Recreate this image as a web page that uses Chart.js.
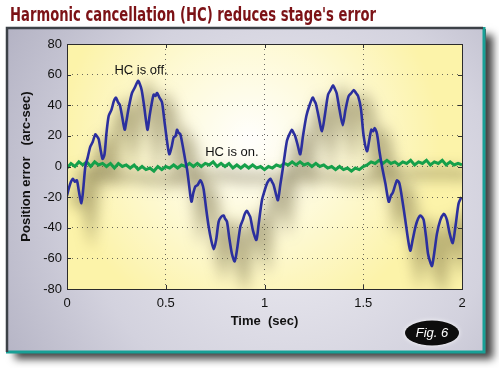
<!DOCTYPE html>
<html>
<head>
<meta charset="utf-8">
<script src="https://cdn.jsdelivr.net/npm/chart.js@4.4.1/dist/chart.umd.min.js"></script>
<style>
  html, body { margin: 0; padding: 0; background: #fff; }
  #wrap { width: 499px; height: 368px; }
</style>
</head>
<body>
<div id="wrap"><canvas id="chart" width="499" height="368"></canvas></div>
<script>
// values
const titleText = "Harmonic cancellation (HC) reduces stage's error";
const xTicks = [0, 0.5, 1, 1.5, 2];
const yTicks = [-80, -60, -40, -20, 0, 20, 40, 60, 80];

// HC is off (blue)
const offTime = [
  0.000, 0.010, 0.020, 0.030, 0.040, 0.050, 0.060, 0.073, 0.082, 0.093,
  0.105, 0.118, 0.130, 0.143, 0.150, 0.160, 0.170, 0.180, 0.190, 0.200,
  0.211, 0.225, 0.238, 0.248, 0.258, 0.268, 0.280, 0.292, 0.300, 0.312,
  0.329, 0.345, 0.360, 0.368, 0.378, 0.390, 0.400, 0.408, 0.418, 0.430,
  0.439, 0.448, 0.456, 0.468, 0.481, 0.493, 0.506, 0.518, 0.530, 0.540,
  0.550, 0.557, 0.565, 0.574, 0.588, 0.599, 0.608, 0.618, 0.630, 0.640,
  0.650, 0.662, 0.675, 0.684, 0.692, 0.705, 0.717, 0.730, 0.743, 0.755,
  0.768, 0.780, 0.793, 0.800, 0.810, 0.822, 0.835, 0.849, 0.860, 0.878,
  0.890, 0.900, 0.911, 0.920, 0.928, 0.942, 0.959, 0.970, 0.987, 1.000,
  1.013, 1.022, 1.030, 1.038, 1.046, 1.058, 1.068, 1.080, 1.092, 1.103,
  1.114, 1.126, 1.139, 1.147, 1.155, 1.168, 1.181, 1.195, 1.212, 1.228,
  1.244, 1.252, 1.260, 1.275, 1.291, 1.305, 1.322, 1.335, 1.347, 1.355,
  1.365, 1.380, 1.396, 1.410, 1.426, 1.440, 1.452, 1.463, 1.474, 1.488,
  1.502, 1.519, 1.530, 1.541, 1.550, 1.558, 1.570, 1.582, 1.595, 1.612,
  1.629, 1.640, 1.650, 1.662, 1.671, 1.683, 1.698, 1.713, 1.725, 1.738,
  1.750, 1.765, 1.778, 1.789, 1.798, 1.806, 1.818, 1.828, 1.838, 1.848,
  1.860, 1.873, 1.890, 1.907, 1.915, 1.924, 1.938, 1.953, 1.968, 1.983,
  1.997
];
const offError = [
  -19, -14, -10, -8, -10, -9, -16, -24, -15, 0,
  6, 13, 16, 21, 20, 18, 11, 5, 8, 22,
  33, 37, 43, 45, 42, 40, 32, 24, 29, 38,
  48, 52, 56, 54, 50, 40, 30, 24, 33, 42,
  47, 46, 48, 45, 42, 30, 17, 8, 13, 19,
  20, 24, 22, 21, 12, 4, -2, -12, -23, -17,
  -13, -12, -9, -11, -15, -28, -39, -48, -54, -48,
  -36, -33, -32, -34, -36, -47, -57, -62, -55, -39,
  -35, -31, -29, -31, -33, -42, -48, -38, -22, -16,
  -11, -9, -8, -10, -12, -18, -22, -12, -2, 8,
  17, 21, 24, 22, 20, 14, 8, 20, 33, 40,
  45, 43, 41, 32, 23, 33, 47, 50, 53, 51,
  48, 37, 27, 37, 46, 48, 50, 48, 46, 38,
  20, 10, 17, 24, 23, 25, 21, 10, 0, -11,
  -23, -19, -17, -12, -9, -11, -22, -35, -46, -55,
  -48, -39, -34, -32, -33, -35, -46, -57, -62, -65,
  -56, -44, -35, -31, -32, -35, -44, -50, -38, -24,
  -20
];

// HC is on (green)
const onTime = [
  0.00, 0.02, 0.04, 0.06, 0.08, 0.10, 0.12, 0.14, 0.16, 0.18,
  0.20, 0.22, 0.24, 0.26, 0.28, 0.30, 0.32, 0.34, 0.36, 0.38,
  0.40, 0.42, 0.44, 0.46, 0.48, 0.50, 0.52, 0.54, 0.56, 0.58,
  0.60, 0.62, 0.64, 0.66, 0.68, 0.70, 0.72, 0.74, 0.76, 0.78,
  0.80, 0.82, 0.84, 0.86, 0.88, 0.90, 0.92, 0.94, 0.96, 0.98,
  1.00, 1.02, 1.04, 1.06, 1.08, 1.10, 1.12, 1.14, 1.16, 1.18,
  1.20, 1.22, 1.24, 1.26, 1.28, 1.30, 1.32, 1.34, 1.36, 1.38,
  1.40, 1.42, 1.44, 1.46, 1.48, 1.50, 1.52, 1.54, 1.56, 1.58,
  1.60, 1.62, 1.64, 1.66, 1.68, 1.70, 1.72, 1.74, 1.76, 1.78,
  1.80, 1.82, 1.84, 1.86, 1.88, 1.90, 1.92, 1.94, 1.96, 1.98,
  2.00
];
const onError = [
  -1, 2, 0, 3, 1, 3, 0, 3, 1, 2,
  0, 2, -1, 2, 0, 1, -1, 1, -2, 0,
  -2, -1, -3, 0, -2, 0, -1, 1, -1, 1,
  0, 2, 0, 2, 0, 2, 1, 3, 0, 2,
  0, 2, -1, 1, -1, 1, -1, 1, -1, 0,
  -2, 0, -1, 1, 0, 2, 1, 3, 1, 3,
  1, 2, 0, 2, 0, 1, -1, 0, -2, 0,
  -2, -1, -3, -1, -2, 0, 1, 3, 2, 4,
  2, 4, 2, 3, 1, 3, 2, 4, 1, 3,
  2, 4, 1, 3, 2, 4, 1, 3, 1, 2,
  1
];

const notes = [
  { text: "HC is off.", x: 0.375, y: 63 },
  { text: "HC is on.", x: 0.835, y: 9.5 }
];

const toPoints = (xs, ys) => xs.map((x, i) => ({ x: x, y: ys[i] }));

// panel, title, plot background and line shadows
const decor = {
  id: "decor",
  beforeDraw(chart) {
    const ctx = chart.ctx;
    const a = chart.chartArea;
    ctx.save();
    ctx.fillStyle = "#ffffff";
    ctx.fillRect(0, 0, chart.width, chart.height);

    // drop shadow of the panel
    ctx.save();
    ctx.shadowColor = "rgba(0,0,0,0.75)";
    ctx.shadowBlur = 8;
    ctx.shadowOffsetX = 7;
    ctx.shadowOffsetY = 6;
    ctx.fillStyle = "#555";
    ctx.fillRect(8, 29, 478, 324);
    ctx.restore();

    // panel
    const g = ctx.createRadialGradient(290, 200, 20, 290, 200, 330);
    g.addColorStop(0, "#ecebf1");
    g.addColorStop(0.6, "#d3d2de");
    g.addColorStop(1, "#b4b3c4");
    ctx.fillStyle = g;
    ctx.fillRect(6, 27, 479, 326);
    ctx.strokeStyle = "#18a096";
    ctx.lineWidth = 3;
    ctx.beginPath();
    ctx.moveTo(484, 27); ctx.lineTo(484, 352); ctx.lineTo(6, 352);
    ctx.stroke();
    ctx.strokeStyle = "#3c4147";
    ctx.lineWidth = 2.5;
    ctx.beginPath();
    ctx.moveTo(7, 352); ctx.lineTo(7, 28); ctx.lineTo(483, 28);
    ctx.stroke();

    // title
    ctx.font = "bold 20px 'Liberation Sans Narrow', 'DejaVu Sans Condensed', 'Liberation Sans', sans-serif";
    ctx.fillStyle = "#7c1216";
    ctx.textBaseline = "alphabetic";
    const w = ctx.measureText(titleText).width;
    ctx.save();
    ctx.translate(10, 21);
    ctx.scale(366 / w, 1);
    ctx.fillText(titleText, 0, 0);
    ctx.restore();

    // plot area
    ctx.fillStyle = "#fcf3a9";
    ctx.fillRect(a.left, a.top, a.right - a.left, a.bottom - a.top);
    const glow = ctx.createRadialGradient(250, 140, 5, 250, 140, 190);
    glow.addColorStop(0, "rgba(255,255,255,0.95)");
    glow.addColorStop(0.5, "rgba(255,255,250,0.55)");
    glow.addColorStop(1, "rgba(255,255,255,0)");
    ctx.fillStyle = glow;
    ctx.fillRect(a.left, a.top, a.right - a.left, a.bottom - a.top);

    // Fig. 6 badge
    ctx.save();
    ctx.shadowColor = "rgba(255,255,255,0.9)";
    ctx.shadowBlur = 4;
    ctx.fillStyle = "#0d0d0d";
    ctx.beginPath();
    ctx.ellipse(432, 333, 27, 12.5, 0, 0, Math.PI * 2);
    ctx.fill();
    ctx.restore();
    ctx.fillStyle = "#ffffff";
    ctx.font = "italic 13px 'Liberation Sans', Arial, sans-serif";
    ctx.textAlign = "center";
    ctx.textBaseline = "middle";
    ctx.fillText("Fig. 6", 432, 333);
    ctx.restore();
  },
  beforeDatasetsDraw(chart) {
    const ctx = chart.ctx;
    const a = chart.chartArea;
    ctx.save();
    ctx.beginPath();
    ctx.rect(a.left, a.top, a.right - a.left, a.bottom - a.top);
    ctx.clip();
    ctx.filter = "blur(7px)";
    chart.data.datasets.forEach((ds, i) => {
      const pts = chart.getDatasetMeta(i).data;
      ctx.strokeStyle = i === 0 ? "rgba(95,85,45,0.42)" : "rgba(95,85,45,0.35)";
      ctx.lineWidth = i === 0 ? 12 : 10;
      ctx.beginPath();
      pts.forEach((p, k) => {
        if (k === 0) ctx.moveTo(p.x + 9, p.y + 11);
        else ctx.lineTo(p.x + 9, p.y + 11);
      });
      ctx.stroke();
    });
    ctx.restore();
  },
  afterDraw(chart) {
    const ctx = chart.ctx;
    const a = chart.chartArea;
    const xs = chart.scales.x;
    const ys = chart.scales.y;
    ctx.save();
    ctx.strokeStyle = "#333";
    ctx.lineWidth = 1;
    ctx.beginPath();
    xTicks.forEach((t) => {
      const px = Math.round(xs.getPixelForValue(t)) + 0.5;
      ctx.moveTo(px, a.bottom); ctx.lineTo(px, a.bottom - 4);
      ctx.moveTo(px, a.top); ctx.lineTo(px, a.top + 4);
    });
    yTicks.forEach((t) => {
      const py = Math.round(ys.getPixelForValue(t)) + 0.5;
      ctx.moveTo(a.left, py); ctx.lineTo(a.left + 4, py);
      ctx.moveTo(a.right, py); ctx.lineTo(a.right - 4, py);
    });
    ctx.stroke();
    ctx.strokeStyle = "#2b2b2b";
    ctx.strokeRect(Math.round(a.left) + 0.5, Math.round(a.top) + 0.5,
      Math.round(a.right - a.left), Math.round(a.bottom - a.top));

    ctx.fillStyle = "#111";
    ctx.font = "13px 'Liberation Sans', Arial, sans-serif";
    ctx.textAlign = "center";
    ctx.textBaseline = "middle";
    notes.forEach((n) => {
      ctx.fillText(n.text, xs.getPixelForValue(n.x), ys.getPixelForValue(n.y));
    });
    ctx.restore();
  }
};

new Chart(document.getElementById("chart"), {
  type: "line",
  data: {
    datasets: [
      {
        label: "HC is off",
        data: toPoints(offTime, offError),
        borderColor: "#2b2f9e",
        borderWidth: 2.6,
        pointRadius: 0,
        tension: 0.25,
      },
      {
        label: "HC is on",
        data: toPoints(onTime, onError),
        borderColor: "#15a04a",
        borderWidth: 3,
        pointRadius: 0,
        tension: 0,
      },
    ],
  },
  options: {
    responsive: false,
    animation: false,
    events: [],
    layout: { padding: { left: 0, right: 37, top: 44, bottom: 0 } },
    plugins: { legend: { display: false }, tooltip: { enabled: false } },
    scales: {
      x: {
        type: "linear",
        min: 0,
        max: 2,
        afterBuildTicks: (s) => { s.ticks = xTicks.map((v) => ({ value: v })); },
        afterFit: (s) => { s.height = 79; },
        grid: {
          color: "rgba(60,60,60,0.75)",
          borderDash: [1, 4],
          drawTicks: false,
        },
        border: { display: false, dash: [1, 4] },
        ticks: {
          padding: 7,
          color: "#111",
          font: { family: "'Liberation Sans', Arial, sans-serif", size: 13 },
          callback: (v) => String(v),
        },
        title: {
          display: true,
          text: "Time  (sec)",
          color: "#111",
          font: { family: "'Liberation Sans', Arial, sans-serif", size: 13, weight: "bold" },
          padding: { top: 0, bottom: 39 },
        },
      },
      y: {
        min: -80,
        max: 80,
        afterBuildTicks: (s) => { s.ticks = yTicks.map((v) => ({ value: v })); },
        afterFit: (s) => { s.width = 67; },
        grid: {
          color: "rgba(60,60,60,0.75)",
          drawTicks: false,
        },
        border: { display: false, dash: [1, 4] },
        ticks: {
          padding: 5,
          color: "#111",
          font: { family: "'Liberation Sans', Arial, sans-serif", size: 13 },
        },
        title: {
          display: true,
          text: "Position error   (arc-sec)",
          color: "#111",
          font: { family: "'Liberation Sans', Arial, sans-serif", size: 13, weight: "bold" },
          padding: { top: 19, bottom: 0 },
        },
      },
    },
  },
  plugins: [decor],
});
</script>
</body>
</html>
